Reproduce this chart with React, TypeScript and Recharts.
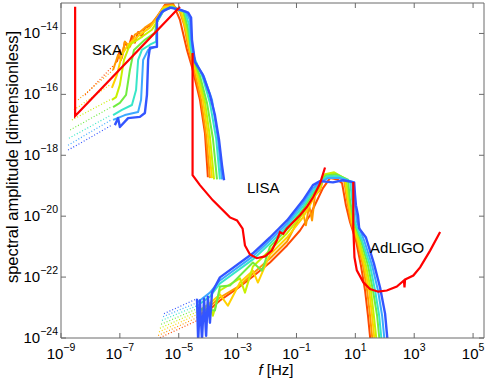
import { LineChart, Line, XAxis, YAxis, ReferenceDot } from "recharts";

type Pt = [number, number]; // [log10 f, log10 h]

const X_TICK_EXP = [-9, -7, -5, -3, -1, 1, 3, 5];
const Y_TICK_EXP = [-24, -22, -20, -18, -16, -14];

// red (early) -> blue (late)
const COLORS = ["#ff4a00", "#ff9900", "#ffd200", "#c8f000", "#70ec40", "#38e6c8", "#3ca8ff", "#3355ff"];

// detector sensitivity curves
const SKA: Pt[] = [[-8.52, -13.12], [-8.52, -16.71], [-4.96, -13.12]];
const LISA: Pt[] = [
  [-4.53, -14.64], [-4.53, -18.65], [-4.28, -18.98], [-3.84, -19.48], [-3.26, -20.04], [-3.02, -20.14],
  [-2.83, -20.41], [-2.75, -20.96], [-2.58, -21.26], [-2.35, -21.38], [-2.07, -21.32], [-1.84, -21.13],
  [-1.67, -20.80], [-1.56, -20.52], [-1.45, -20.58], [-1.33, -20.41], [-1.11, -20.19], [-0.88, -19.97],
  [-0.65, -19.70], [-0.43, -19.37], [-0.20, -18.93], [-0.03, -18.40],
];
const ADLIGO: Pt[] = [
  [0.93, -18.88], [0.93, -20.36], [0.97, -21.35], [1.05, -21.78], [1.27, -22.17], [1.5, -22.39],
  [1.78, -22.48], [2.07, -22.44], [2.41, -22.31], [2.65, -22.11], [2.67, -22.34], [2.69, -22.08],
  [2.97, -21.95], [3.2, -21.68], [3.54, -21.13], [3.88, -20.52],
];

// pulsar-timing band spectra (sparse low-f part, then solid)
const PTA_DOTS: Pt[][] = [
  [[-8.18, -16.02], [-7.1, -14.93]],
  [[-8.42, -16.18], [-7.23, -15.2]],
  [[-8.56, -16.51], [-7.34, -15.69]],
  [[-8.63, -16.84], [-7.34, -16.18]],
  [[-8.69, -17.17], [-7.3, -16.42]],
  [[-8.73, -17.44], [-7.3, -16.68]],
  [[-8.76, -17.67], [-7.3, -16.84]],
  [[-8.76, -17.83], [-7.27, -17.01]],
];
const PTA_SOLID: Pt[][] = [
  [[-7.1, -14.93], [-7.0, -14.54], [-6.93, -14.8], [-6.83, -14.27], [-6.72, -14.5], [-6.59, -14.08], [-6.49, -14.3],
   [-6.38, -13.95], [-6.25, -14.1], [-6.15, -13.82], [-5.98, -13.75], [-5.91, -13.68], [-5.74, -13.45], [-5.47, -13.06],
   [-5.19, -13.03], [-4.96, -13.55], [-4.72, -14.54], [-4.55, -15.1], [-4.28, -16.18], [-4.11, -17.27], [-4.01, -18.72]],
  [[-7.23, -15.2], [-7.06, -14.7], [-6.96, -14.87], [-6.83, -14.27], [-6.66, -14.44], [-6.49, -14.04], [-6.32, -13.95],
   [-6.15, -13.81], [-5.91, -13.65], [-5.7, -13.42], [-5.47, -13.09], [-5.19, -13.06], [-4.96, -13.29], [-4.82, -13.71],
   [-4.68, -14.44], [-4.48, -15.2], [-4.24, -16.18], [-4.07, -17.34], [-3.94, -18.75]],
  [[-7.27, -15.79], [-7.1, -15.36], [-6.93, -14.7], [-6.72, -14.37], [-6.32, -14.04], [-5.98, -13.81], [-5.77, -13.55],
   [-5.53, -13.15], [-5.23, -13.09], [-4.92, -13.29], [-4.75, -13.88], [-4.62, -14.54], [-4.41, -15.26], [-4.18, -16.18],
   [-4.01, -17.34], [-3.87, -18.75]],
  [[-7.27, -16.18], [-7.13, -16.09], [-7.0, -15.69], [-6.86, -14.87], [-6.66, -14.37], [-6.25, -14.11], [-5.91, -13.88],
   [-5.74, -13.62], [-5.53, -13.22], [-5.23, -13.12], [-4.85, -13.29], [-4.72, -13.88], [-4.58, -14.6], [-4.34, -15.33],
   [-4.11, -16.25], [-3.94, -17.4], [-3.8, -18.79]],
  [[-7.23, -16.42], [-7.0, -16.28], [-6.79, -16.02], [-6.66, -15.2], [-6.52, -14.54], [-6.15, -14.21], [-5.81, -13.98],
   [-5.74, -13.62], [-5.5, -13.22], [-5.23, -13.12], [-4.82, -13.29], [-4.68, -13.88], [-4.55, -14.7], [-4.28, -15.39],
   [-4.04, -16.28], [-3.84, -17.44], [-3.7, -18.79]],
  [[-7.23, -16.68], [-6.93, -16.51], [-6.59, -16.35], [-6.45, -15.86], [-6.38, -14.87], [-6.25, -14.54], [-5.98, -14.37],
   [-5.77, -14.27], [-5.74, -13.62], [-5.5, -13.22], [-5.23, -13.15], [-4.79, -13.29], [-4.65, -13.71], [-4.58, -14.54],
   [-4.41, -14.93], [-4.18, -15.46], [-3.94, -16.28], [-3.73, -17.44], [-3.6, -18.79]],
  [[-7.23, -16.84], [-6.83, -16.68], [-6.38, -16.58], [-6.28, -16.18], [-6.21, -14.87], [-6.04, -14.54], [-5.81, -14.44],
   [-5.74, -14.44], [-5.74, -13.62], [-5.53, -13.25], [-5.23, -13.15], [-4.75, -13.29], [-4.62, -13.55], [-4.55, -14.37],
   [-4.45, -14.93], [-4.14, -15.42], [-3.87, -16.18], [-3.67, -17.44], [-3.53, -18.79]],
  [[-7.17, -17.01], [-7.06, -16.78], [-7.0, -17.07], [-6.72, -16.78], [-6.32, -16.74], [-6.15, -16.61], [-6.08, -16.02],
   [-6.04, -14.87], [-5.98, -14.47], [-5.74, -14.44], [-5.74, -13.55], [-5.57, -13.29], [-5.3, -13.15], [-4.96, -13.22],
   [-4.68, -13.32], [-4.58, -13.48], [-4.55, -14.21], [-4.45, -14.93], [-4.18, -15.36], [-3.94, -16.02], [-3.77, -16.68],
   [-3.63, -17.5], [-3.53, -18.33], [-3.46, -18.82]],
];

// interferometer band spectra
const GW_DOTS: Pt[][] = [
  [[-5.73, -24.03], [-4.38, -23.43]],
  [[-5.7, -23.92], [-4.38, -23.33]],
  [[-5.67, -23.8], [-4.38, -23.23]],
  [[-5.64, -23.68], [-4.38, -23.14]],
  [[-5.6, -23.55], [-4.38, -23.04]],
  [[-5.57, -23.42], [-4.38, -22.94]],
  [[-5.53, -23.3], [-4.38, -22.84]],
  [[-5.5, -23.2], [-4.38, -22.71]],
];
const GW_SOLID: Pt[][] = [
  [[-4.38, -23.43], [-3.6, -22.77], [-3.02, -22.38], [-2.48, -21.98], [-1.9, -21.52], [-1.32, -20.96], [-0.88, -20.47],
   [-0.54, -19.97], [-0.27, -19.42], [-0.1, -19.08], [0.14, -18.75], [0.4, -18.8], [0.55, -18.92], [0.68, -19.64],
   [0.82, -20.2], [1.02, -20.8], [1.19, -21.62], [1.33, -22.44], [1.43, -23.27], [1.53, -24.26]],
  [[-4.38, -23.33], [-3.6, -22.67], [-2.92, -22.28], [-2.48, -21.88], [-1.9, -21.39], [-1.32, -20.83], [-0.98, -20.2],
   [-0.78, -19.87], [-0.68, -20.3], [-0.57, -19.64], [-0.47, -20.14], [-0.37, -19.31], [-0.2, -19.15], [-0.1, -18.82],
   [0.14, -18.66], [0.48, -18.75], [0.62, -18.82], [0.72, -19.48], [0.85, -20.2], [1.06, -20.8], [1.26, -21.62],
   [1.4, -22.44], [1.5, -23.27], [1.6, -24.26]],
  [[-4.38, -23.23], [-3.6, -22.57], [-3.33, -22.94], [-2.92, -22.18], [-2.48, -21.79], [-2.31, -22.18], [-1.9, -21.26],
   [-1.32, -20.7], [-0.78, -20.04], [-0.44, -19.45], [-0.2, -19.08], [-0.07, -18.69], [0.21, -18.59], [0.65, -18.79],
   [0.75, -19.48], [0.89, -20.2], [1.09, -20.8], [1.3, -21.62], [1.47, -22.44], [1.57, -23.27], [1.67, -24.26]],
  [[-4.38, -23.14], [-3.94, -22.87], [-3.84, -23.27], [-3.6, -22.44], [-2.92, -22.04], [-2.75, -22.51], [-2.48, -21.65],
   [-1.9, -21.12], [-1.32, -20.56], [-0.78, -19.91], [-0.44, -19.35], [-0.2, -19.02], [-0.03, -18.62], [0.28, -18.56],
   [0.68, -18.78], [0.79, -19.48], [0.92, -20.2], [1.13, -20.8], [1.36, -21.62], [1.53, -22.44], [1.63, -23.27], [1.74, -24.26]],
  [[-4.38, -23.04], [-3.77, -23.1], [-3.6, -22.31], [-3.26, -22.28], [-2.48, -21.52], [-2.17, -21.79], [-1.9, -21.0],
   [-1.32, -20.43], [-0.78, -19.78], [-0.44, -19.25], [-0.2, -18.95], [0.0, -18.66], [0.34, -18.62], [0.75, -18.8],
   [0.82, -19.48], [0.96, -20.2], [1.19, -20.8], [1.43, -21.62], [1.6, -22.44], [1.74, -23.27], [1.84, -24.26]],
  [[-4.38, -22.94], [-3.94, -22.64], [-3.6, -22.21], [-2.48, -21.42], [-1.9, -20.9], [-1.32, -20.33], [-0.78, -19.68],
   [-0.44, -19.18], [-0.2, -18.92], [0.04, -18.69], [0.41, -18.69], [0.82, -18.85], [0.89, -19.48], [0.99, -20.2],
   [1.23, -20.8], [1.5, -21.62], [1.67, -22.44], [1.81, -23.27], [1.91, -24.26]],
  [[-4.38, -22.84], [-3.94, -22.51], [-3.6, -22.11], [-2.48, -21.32], [-1.9, -20.8], [-1.32, -20.24], [-0.78, -19.58],
   [-0.44, -19.08], [-0.2, -18.89], [0.07, -18.75], [0.48, -18.75], [0.89, -18.87], [0.96, -19.48], [1.06, -20.2],
   [1.3, -20.8], [1.57, -21.62], [1.77, -22.44], [1.91, -23.27], [2.01, -24.26]],
  [[-4.38, -22.71], [-4.34, -24.09], [-4.28, -22.77], [-4.21, -24.05], [-4.14, -22.71], [-4.07, -23.93], [-4.01, -22.64],
   [-3.94, -23.5], [-3.87, -22.51], [-3.6, -22.01], [-2.48, -21.22], [-1.9, -20.7], [-1.32, -20.14], [-0.78, -19.48],
   [-0.44, -18.98], [-0.2, -18.85], [0.24, -18.89], [0.58, -18.82], [0.96, -18.89], [0.99, -19.31], [1.02, -19.64],
   [1.09, -19.97], [1.13, -20.4], [1.36, -20.7], [1.63, -21.55], [1.84, -22.34], [2.01, -23.2], [2.11, -24.26]],
];

const DETECTOR_LABELS: { name: string; at: Pt }[] = [
  { name: "SKA", at: [-7.95, -14.54] },
  { name: "LISA", at: [-2.68, -19.05] },
  { name: "AdLIGO", at: [1.5, -21.04] },
];

const FONT = "'Liberation Sans', Arial, Helvetica, sans-serif";
const FRAME = "#6a6a6a";

const rows = (pts: Pt[]) => pts.map(([lf, lh]) => ({ f: Math.pow(10, lf), h: Math.pow(10, lh) }));
const expText = (v: number) => {
  const e = Math.round(Math.log10(v));
  return e < 0 ? `\u2212${-e}` : `${e}`;
};

const BottomTick = ({ x, y, payload }: any) => (
  <g>
    <line x1={x} y1={y} x2={x} y2={y - 5} stroke={FRAME} />
    <text x={x} y={y + 21} textAnchor="middle" fontSize={15} fill="#000" fontFamily={FONT}>
      10<tspan dy={-8} fontSize={10.5}>{expText(payload.value)}</tspan>
    </text>
  </g>
);
const LeftTick = ({ x, y, payload }: any) => (
  <g>
    <line x1={x} y1={y} x2={x + 5} y2={y} stroke={FRAME} />
    <text x={x - 3} y={y + 5} textAnchor="end" fontSize={15} fill="#000" fontFamily={FONT}>
      10<tspan dy={-8} fontSize={10.5}>{expText(payload.value)}</tspan>
    </text>
  </g>
);
const TopTick = ({ x, y }: any) => <line x1={x} y1={y} x2={x} y2={y + 5} stroke={FRAME} />;
const RightTick = ({ x, y }: any) => <line x1={x} y1={y} x2={x - 5} y2={y} stroke={FRAME} />;

const xDomain = [1e-9, 2.35e5];
const yDomain = [1e-24, 1e-13];
const xTicks = X_TICK_EXP.map((e) => Math.pow(10, e));
const yTicks = Y_TICK_EXP.map((e) => Math.pow(10, e));

export default function App() {
  return (
    <div style={{ position: "absolute", left: 0, top: 0, width: 491, height: 382, background: "#fff" }}>
      <LineChart width={491} height={382} margin={{ top: 2, right: 6, bottom: 0, left: 0 }}>
        <XAxis dataKey="f" type="number" scale="log" domain={xDomain} allowDataOverflow ticks={xTicks}
          interval={0} height={44} tickSize={0} tickMargin={0} axisLine={{ stroke: FRAME }} tick={BottomTick} />
        <XAxis xAxisId="top" orientation="top" dataKey="f" type="number" scale="log" domain={xDomain}
          allowDataOverflow ticks={xTicks} interval={0} height={1} tickSize={0} tickMargin={0}
          axisLine={{ stroke: FRAME }} tick={TopTick} />
        <YAxis type="number" scale="log" domain={yDomain} allowDataOverflow ticks={yTicks} interval={0}
          width={61} tickSize={0} tickMargin={0} axisLine={{ stroke: FRAME }} tick={LeftTick} />
        <YAxis yAxisId="right" orientation="right" type="number" scale="log" domain={yDomain} allowDataOverflow
          ticks={yTicks} interval={0} width={1} tickSize={0} tickMargin={0} axisLine={{ stroke: FRAME }}
          tick={RightTick} />

        {[PTA_DOTS, GW_DOTS].map((group, g) =>
          group.map((pts, i) => (
            <Line key={`d${g}-${i}`} data={rows(pts)} dataKey="h" stroke={COLORS[i]} strokeWidth={1.2}
              strokeDasharray="1 2" dot={false} isAnimationActive={false} />
          ))
        )}
        {[PTA_SOLID, GW_SOLID].map((group, g) =>
          group.map((pts, i) => (
            <Line key={`s${g}-${i}`} data={rows(pts)} dataKey="h" stroke={COLORS[i]}
              strokeWidth={i === COLORS.length - 1 ? 2.4 : 2} strokeLinejoin="round" dot={false}
              isAnimationActive={false} />
          ))
        )}
        {[SKA, LISA, ADLIGO].map((pts, i) => (
          <Line key={`det${i}`} data={rows(pts)} dataKey="h" stroke="#ff0000" strokeWidth={2.2}
            dot={false} isAnimationActive={false} />
        ))}
        {DETECTOR_LABELS.map((d) => (
          <ReferenceDot key={d.name} x={Math.pow(10, d.at[0])} y={Math.pow(10, d.at[1])} r={0}
            fill="none" stroke="none"
            label={{ value: d.name, position: "right", offset: 0, fontSize: 15, fill: "#000", fontFamily: FONT }} />
        ))}
      </LineChart>
      <svg width={491} height={382} style={{ position: "absolute", left: 0, top: 0, pointerEvents: "none" }}>
        <text x={18} y={157} transform="rotate(-90 18 157)" textAnchor="middle" fontSize={16.5} fontFamily={FONT}
          fill="#000">spectral amplitude [dimensionless]</text>
        <text x={276} y={375} textAnchor="middle" fontSize={15} fontFamily={FONT} fill="#000">
          <tspan fontStyle="italic">f</tspan> [Hz]
        </text>
      </svg>
    </div>
  );
}
